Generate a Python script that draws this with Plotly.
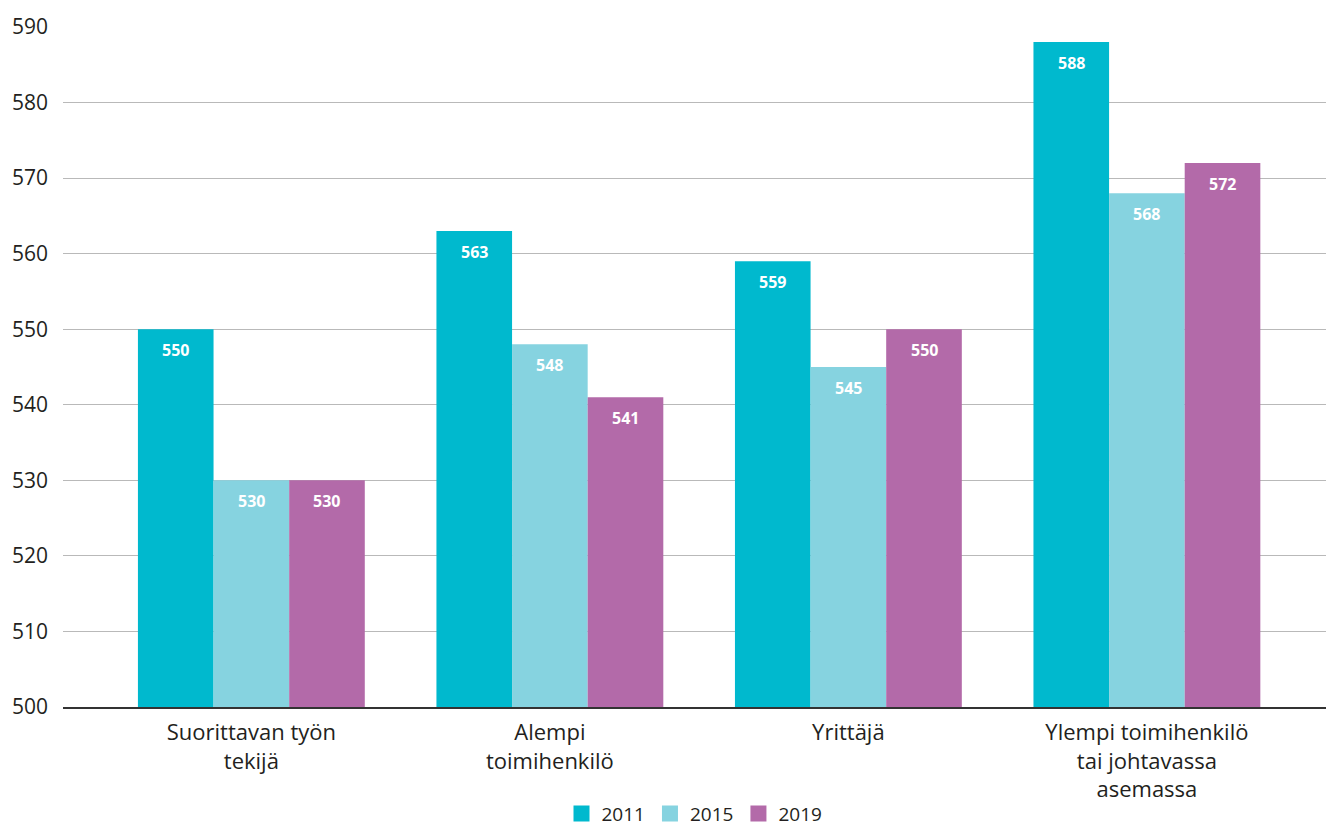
import plotly.graph_objects as go

categories = ["Suorittavan työn<br>tekijä", "Alempi<br>toimihenkilö", "Yrittäjä",
              "Ylempi toimihenkilö<br>tai johtavassa<br>asemassa"]
years = ["2011", "2015", "2019"]
values_2011 = [550, 563, 559, 588]
values_2015 = [530, 548, 545, 568]
values_2019 = [530, 541, 550, 572]
colors = ["#00B9CE", "#86D3E0", "#B36AA9"]
y_ticks = [500, 510, 520, 530, 540, 550, 560, 570, 580, 590]

series = [values_2011, values_2015, values_2019]
font_family = "Open Sans"

fig = go.Figure()
for name, vals, col in zip(years, series, colors):
    fig.add_trace(go.Bar(
        x=list(range(len(categories))), y=vals, name=name,
        marker=dict(color=col, line=dict(width=0)),
        showlegend=False,
    ))
# legend entries with larger square swatches
for name, col in zip(years, colors):
    fig.add_trace(go.Scatter(
        x=[None], y=[None], mode="markers", name=name,
        marker=dict(symbol="square", size=18, color=col),
        showlegend=True,
    ))

# value labels placed just inside the top of each bar
bargap = 0.24
bar_w = (1 - bargap) / len(series)
for si, vals in enumerate(series):
    off = (si - (len(series) - 1) / 2) * bar_w
    for ci, v in enumerate(vals):
        fig.add_annotation(
            x=ci + off, y=v, text=f"<b>{v}</b>", showarrow=False,
            yanchor="middle", yshift=-21,
            font=dict(family=font_family, size=16, color="white"),
        )

fig.update_layout(
    width=1326, height=827,
    margin=dict(l=63, r=0, t=27, b=120, autoexpand=False),
    plot_bgcolor="white", paper_bgcolor="white",
    barmode="group", bargap=bargap, bargroupgap=0,
    font=dict(family=font_family, color="#231F20"),
    showlegend=True,
    legend=dict(
        orientation="h", x=0.5, xanchor="center",
        yref="container", y=0.016, yanchor="middle",
        font=dict(family=font_family, size=19, color="#231F20"),
        itemwidth=30, traceorder="normal", tracegroupgap=0,
    ),
)
fig.update_xaxes(
    tickmode="array", tickvals=list(range(len(categories))), ticktext=categories,
    range=[-0.631, 3.60], showgrid=False, zeroline=False,
    showline=True, linecolor="#333333", linewidth=1.5,
    tickfont=dict(family=font_family, size=22, color="#231F20"),
    ticks="", automargin=False, ticklabelstandoff=5,
)
fig.update_yaxes(
    range=[500, 590], tickvals=y_ticks, showgrid=True, gridcolor="#B9B9B9",
    gridwidth=1, zeroline=False, showline=False, ticks="",
    tickfont=dict(family=font_family, size=21, color="#231F20"),
    ticklabelstandoff=14, automargin=False,
)

fig.write_html("out.html")
